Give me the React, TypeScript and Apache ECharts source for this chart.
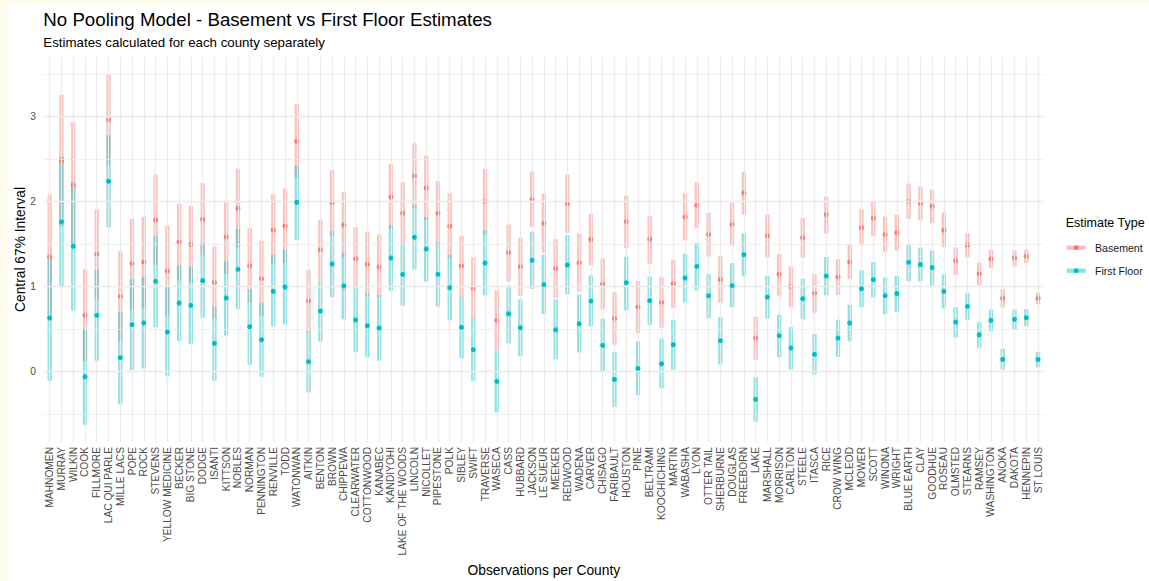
import React, { useEffect, useRef } from "react";
import * as echarts from "echarts";

// Counties ordered by number of observations (fewest first)
const counties = [
  "MAHNOMEN", "MURRAY", "WILKIN", "COOK", "FILLMORE", "LAC QUI PARLE", "MILLE LACS", "POPE", "ROCK", "STEVENS",
  "YELLOW MEDICINE", "BECKER", "BIG STONE", "DODGE", "ISANTI", "KITTSON", "NOBLES", "NORMAN", "PENNINGTON", "RENVILLE",
  "TODD", "WATONWAN", "AITKIN", "BENTON", "BROWN", "CHIPPEWA", "CLEARWATER", "COTTONWOOD", "KANABEC", "KANDIYOHI",
  "LAKE OF THE WOODS", "LINCOLN", "NICOLLET", "PIPESTONE", "POLK", "SIBLEY", "SWIFT", "TRAVERSE", "WASECA", "CASS",
  "HUBBARD", "JACKSON", "LE SUEUR", "MEEKER", "REDWOOD", "WADENA", "CARVER", "CHISAGO", "FARIBAULT", "HOUSTON",
  "PINE", "BELTRAMI", "KOOCHICHING", "MARTIN", "WABASHA", "LYON", "OTTER TAIL", "SHERBURNE", "DOUGLAS", "FREEBORN",
  "LAKE", "MARSHALL", "MORRISON", "CARLTON", "STEELE", "ITASCA", "RICE", "CROW WING", "MCLEOD", "MOWER",
  "SCOTT", "WINONA", "WRIGHT", "BLUE EARTH", "CLAY", "GOODHUE", "ROSEAU", "OLMSTED", "STEARNS", "RAMSEY",
  "WASHINGTON", "ANOKA", "DAKOTA", "HENNEPIN", "ST LOUIS",
];

// Basement estimates with the bounds of the central 67% interval
const basementLow = [
  0.624, 1.71, 1.459, 0.122, 0.855, 2.427, 0.357, 0.737, 0.757, 1.255,
  0.659, 1.075, 1.047, 1.368, 0.627, 1.149, 1.459, 0.808, 0.655, 1.259,
  1.278, 2.275, 0.467, 1.078, 1.6, 1.345, 0.98, 0.894, 0.871, 1.678,
  1.51, 1.92, 1.784, 1.486, 1.325, 0.882, 0.62, 1.616, 0.251, 1.059,
  0.894, 1.7, 1.4, 0.867, 1.635, 0.945, 1.251, 0.733, 0.318, 1.451,
  0.451, 1.263, 0.518, 0.749, 1.545, 1.686, 1.353, 0.812, 1.482, 1.847,
  0.141, 1.345, 0.898, 0.757, 1.341, 0.694, 1.627, 0.902, 1.086, 1.486,
  1.596, 1.408, 1.427, 1.796, 1.78, 1.745, 1.463, 1.137, 1.345, 1.02,
  1.216, 0.757, 1.239, 1.278, 0.792,
];
const basementEst = [
  1.353, 2.482, 2.196, 0.663, 1.38, 2.961, 0.886, 1.271, 1.29, 1.784,
  1.184, 1.525, 1.498, 1.792, 1.051, 1.584, 1.922, 1.247, 1.094, 1.667,
  1.714, 2.71, 0.831, 1.435, 1.988, 1.725, 1.329, 1.263, 1.231, 2.055,
  1.863, 2.302, 2.161, 1.863, 1.71, 1.243, 0.98, 2.0, 0.604, 1.4,
  1.235, 2.027, 1.745, 1.212, 1.976, 1.282, 1.553, 1.031, 0.627, 1.765,
  0.761, 1.557, 0.816, 1.035, 1.82, 1.957, 1.612, 1.082, 1.733, 2.102,
  0.396, 1.6, 1.145, 1.0, 1.576, 0.925, 1.847, 1.114, 1.29, 1.694,
  1.804, 1.612, 1.635, 2.004, 1.98, 1.945, 1.663, 1.302, 1.49, 1.153,
  1.325, 0.863, 1.337, 1.357, 0.863,
];
const basementHigh = [
  2.082, 3.255, 2.933, 1.204, 1.906, 3.494, 1.416, 1.796, 1.82, 2.318,
  1.718, 1.976, 1.949, 2.216, 1.475, 2.012, 2.388, 1.69, 1.541, 2.086,
  2.153, 3.145, 1.2, 1.788, 2.369, 2.11, 1.698, 1.647, 1.612, 2.439,
  2.227, 2.686, 2.541, 2.239, 2.098, 1.596, 1.345, 2.384, 0.961, 1.729,
  1.576, 2.353, 2.09, 1.557, 2.318, 1.624, 1.851, 1.333, 0.933, 2.071,
  1.067, 1.835, 1.11, 1.318, 2.094, 2.227, 1.867, 1.357, 1.988, 2.349,
  0.647, 1.847, 1.384, 1.235, 1.808, 1.149, 2.059, 1.322, 1.502, 1.906,
  2.008, 1.825, 1.843, 2.212, 2.176, 2.141, 1.871, 1.459, 1.631, 1.282,
  1.435, 0.973, 1.427, 1.435, 0.929,
];

// First floor estimates with the bounds of the central 67% interval
const floorLow = [
  -0.106, 0.992, 0.718, -0.624, 0.129, 1.698, -0.384, 0.02, 0.039, 0.522,
  -0.055, 0.361, 0.325, 0.635, -0.106, 0.424, 0.737, 0.082, -0.059, 0.533,
  0.557, 1.553, -0.243, 0.353, 0.875, 0.616, 0.231, 0.173, 0.129, 0.953,
  0.776, 1.2, 1.059, 0.769, 0.604, 0.157, -0.106, 0.898, -0.478, 0.333,
  0.184, 0.973, 0.678, 0.145, 0.91, 0.227, 0.533, 0.004, -0.412, 0.722,
  -0.275, 0.549, -0.196, 0.024, 0.816, 0.957, 0.631, 0.086, 0.757, 1.122,
  -0.588, 0.624, 0.169, 0.027, 0.616, -0.031, 0.898, 0.173, 0.357, 0.757,
  0.875, 0.678, 0.698, 1.063, 1.063, 1.012, 0.745, 0.404, 0.604, 0.282,
  0.475, 0.024, 0.494, 0.537, 0.051,
];
const floorEst = [
  0.631, 1.761, 1.475, -0.059, 0.663, 2.239, 0.165, 0.553, 0.573, 1.063,
  0.467, 0.808, 0.78, 1.071, 0.333, 0.867, 1.204, 0.529, 0.376, 0.945,
  0.996, 1.992, 0.118, 0.714, 1.267, 1.008, 0.608, 0.541, 0.514, 1.337,
  1.145, 1.58, 1.443, 1.145, 0.988, 0.522, 0.259, 1.278, -0.114, 0.682,
  0.518, 1.31, 1.024, 0.494, 1.255, 0.565, 0.831, 0.31, -0.09, 1.047,
  0.039, 0.835, 0.094, 0.318, 1.102, 1.239, 0.894, 0.365, 1.012, 1.376,
  -0.325, 0.878, 0.424, 0.278, 0.859, 0.204, 1.125, 0.396, 0.573, 0.976,
  1.082, 0.894, 0.918, 1.286, 1.259, 1.224, 0.945, 0.584, 0.769, 0.435,
  0.604, 0.145, 0.616, 0.635, 0.145,
];
const floorHigh = [
  1.369, 2.533, 2.232, 0.506, 1.196, 2.78, 0.706, 1.086, 1.114, 1.6,
  0.996, 1.251, 1.235, 1.51, 0.765, 1.298, 1.678, 0.973, 0.812, 1.373,
  1.435, 2.424, 0.478, 1.075, 1.65, 1.4, 0.98, 0.922, 0.902, 1.725,
  1.51, 1.965, 1.82, 1.518, 1.373, 0.882, 0.631, 1.667, 0.251, 1.016,
  0.851, 1.647, 1.376, 0.851, 1.608, 0.906, 1.133, 0.624, 0.231, 1.353,
  0.357, 1.118, 0.392, 0.612, 1.384, 1.514, 1.149, 0.643, 1.278, 1.627,
  -0.063, 1.129, 0.671, 0.525, 1.094, 0.443, 1.349, 0.612, 0.788, 1.192,
  1.29, 1.106, 1.129, 1.498, 1.459, 1.424, 1.145, 0.757, 0.929, 0.584,
  0.729, 0.271, 0.729, 0.737, 0.235,
];

// Gridline breaks on the value axis
const majorBreaks = [0, 1, 2, 3];
const minorBreaks = [-0.5, 0.5, 1.5, 2.5, 3.5];

const seriesNames = ["Basement", "First Floor"];

const FONT = '"Liberation Sans", Arial, Helvetica, sans-serif';
const PINK = "#F8766D";
const TEAL = "#00BFC4";
const PINK_BAR = "rgba(248,118,109,0.45)";
const TEAL_BAR = "rgba(0,191,196,0.45)";
const GRID = "#ebebeb";

function rangeRenderer(stroke: string) {
  return (_params: any, api: any) => {
    const x = api.value(0);
    const lo = api.coord([x, api.value(1)]);
    const hi = api.coord([x, api.value(2)]);
    return {
      type: "line",
      shape: { x1: lo[0], y1: lo[1], x2: hi[0], y2: hi[1] },
      style: { stroke, lineWidth: 4.3, lineCap: "butt" },
    };
  };
}

function legendEntry(label: string, bar: string, dot: string, cy: number) {
  return {
    type: "group",
    children: [
      { type: "rect", shape: { x: 1058.7, y: cy - 2.15, width: 19, height: 4.3 }, style: { fill: bar } },
      { type: "circle", shape: { cx: 1068.2, cy, r: 2.5 }, style: { fill: dot } },
      {
        type: "text",
        x: 1087,
        y: cy,
        style: { text: label, fontSize: 10.6, fontFamily: FONT, fill: "#1a1a1a", verticalAlign: "middle", align: "left" },
      },
    ],
  };
}

export default function App() {
  const ref = useRef<HTMLDivElement>(null);

  useEffect(() => {
    if (!ref.current) return;
    const chart = echarts.init(ref.current, undefined, { renderer: "svg" });

    const gridLines = [
      ...counties.map((_, i) => ({ xAxis: i, lineStyle: { color: GRID, width: 1.3, type: "solid" } })),
      ...minorBreaks.map((v) => ({ yAxis: v, lineStyle: { color: GRID, width: 0.7, type: "solid" } })),
      ...majorBreaks.map((v) => ({ yAxis: v, lineStyle: { color: GRID, width: 1.3, type: "solid" } })),
    ];

    chart.setOption({
      animation: false,
      backgroundColor: "#ffffff",
      title: [
        {
          text: "No Pooling Model - Basement vs First Floor Estimates",
          left: 35.3,
          top: 3.6,
          padding: 0,
          textStyle: { fontSize: 18.7, fontWeight: "normal", color: "#000", fontFamily: FONT, lineHeight: 22 },
        },
        {
          text: "Estimates calculated for each county separately",
          left: 35.3,
          top: 29.4,
          padding: 0,
          textStyle: { fontSize: 13.3, fontWeight: "normal", color: "#000", fontFamily: FONT, lineHeight: 16 },
        },
      ],
      grid: { left: 35.8, right: 105.1, top: 52, bottom: 139, containLabel: false, outerBoundsMode: "none" },
      xAxis: {
        type: "category",
        data: counties,
        boundaryGap: true,
        axisLine: { show: false },
        axisTick: { show: false },
        splitLine: { show: false },
        axisLabel: { rotate: 90, interval: 0, fontSize: 10.2, color: "#4d4d4d", margin: 5, fontFamily: FONT },
        name: "Observations per County",
        nameLocation: "middle",
        nameGap: 118,
        nameTextStyle: { fontSize: 13.8, color: "#000", fontFamily: FONT },
      },
      yAxis: {
        type: "value",
        min: -0.826,
        max: 3.7,
        axisLine: { show: false },
        axisTick: { show: false },
        splitLine: { show: false },
        axisLabel: {
          fontSize: 10.2,
          color: "#4d4d4d",
          margin: 8,
          fontFamily: FONT,
          showMinLabel: false,
          showMaxLabel: false,
          formatter: (v: number) => (majorBreaks.includes(v) ? String(v) : ""),
        },
      },
      series: [
        {
          type: "line",
          data: [],
          z: 0,
          silent: true,
          markLine: {
            silent: true,
            symbol: ["none", "none"],
            label: { show: false },
            emphasis: { disabled: true },
            data: gridLines,
          },
        },
        {
          name: seriesNames[0],
          type: "custom",
          z: 2,
          renderItem: rangeRenderer(PINK_BAR),
          encode: { x: 0, y: [1, 2] },
          data: counties.map((_, i) => [i, basementLow[i], basementHigh[i]]),
        },
        {
          name: seriesNames[1],
          type: "custom",
          z: 3,
          renderItem: rangeRenderer(TEAL_BAR),
          encode: { x: 0, y: [1, 2] },
          data: counties.map((_, i) => [i, floorLow[i], floorHigh[i]]),
        },
        {
          name: seriesNames[0],
          type: "scatter",
          z: 4,
          symbolSize: 5,
          itemStyle: { color: PINK, opacity: 1 },
          data: counties.map((_, i) => [i, basementEst[i]]),
        },
        {
          name: seriesNames[1],
          type: "scatter",
          z: 5,
          symbolSize: 5,
          itemStyle: { color: TEAL, opacity: 1 },
          data: counties.map((_, i) => [i, floorEst[i]]),
        },
      ],
      graphic: [
        {
          type: "text",
          x: 12,
          y: 244.5,
          rotation: Math.PI / 2,
          style: { text: "Central 67% Interval", fontSize: 13.8, fontFamily: FONT, fill: "#000", align: "center", verticalAlign: "middle" },
        },
        {
          type: "text",
          x: 1057.7,
          y: 218,
          style: { text: "Estimate Type", fontSize: 12.5, fontFamily: FONT, fill: "#000", verticalAlign: "middle", align: "left" },
        },
        legendEntry(seriesNames[0], PINK_BAR, PINK, 242.7),
        legendEntry(seriesNames[1], TEAL_BAR, TEAL, 265.7),
      ],
    });

    return () => chart.dispose();
  }, []);

  return (
    <div style={{ position: "fixed", left: 0, top: 0, width: 1149, height: 581, background: "#fdfbec" }}>
      <div ref={ref} style={{ position: "absolute", left: 8, top: 5, width: 1141, height: 576, background: "#ffffff" }} />
    </div>
  );
}
